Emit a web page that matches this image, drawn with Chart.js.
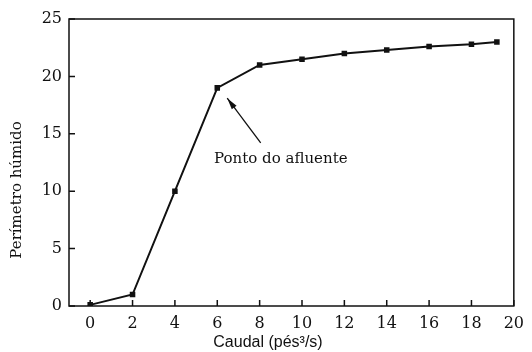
<!DOCTYPE html>
<html>
<head>
<meta charset="utf-8">
<script src="https://cdn.jsdelivr.net/npm/chart.js@4.4.1/dist/chart.umd.min.js"></script>
<style>
  html, body { margin: 0; padding: 0; background: #ffffff; }
  #wrap { width: 532px; height: 352px; }
</style>
</head>
<body>
<div id="wrap"><canvas id="chart" width="532" height="352"></canvas></div>
<script>
// values
const caudal = [0, 2, 4, 6, 8, 10, 12, 14, 16, 18, 19.2];
const perimetro = [0.1, 1.0, 10.0, 19.0, 21.0, 21.5, 22.0, 22.3, 22.6, 22.8, 23.0];
const xTicks = [0, 2, 4, 6, 8, 10, 12, 14, 16, 18, 20];
const yTicks = [0, 5, 10, 15, 20, 25];

const xTitle = "Caudal (pés³/s)";
const yTitle = "Perímetro húmido";
const noteText = "Ponto do afluente";

const serif = "'DejaVu Serif', 'Liberation Serif', serif";
const sans = "'Liberation Sans', Arial, sans-serif";

// inward ticks, frame, axis titles and the arrow note
const decorations = {
  id: "decorations",
  afterDraw(chart) {
    const { ctx, chartArea: a } = chart;
    const xs = chart.scales.x, ys = chart.scales.y;
    ctx.save();
    ctx.strokeStyle = "#111";
    ctx.lineWidth = 1.5;
    ctx.strokeRect(a.left, a.top, a.right - a.left, a.bottom - a.top);

    ctx.beginPath();
    xTicks.forEach(v => {
      const px = xs.getPixelForValue(v);
      ctx.moveTo(px, a.bottom);
      ctx.lineTo(px, a.bottom - 6);
    });
    yTicks.forEach(v => {
      const py = ys.getPixelForValue(v);
      ctx.moveTo(a.left, py);
      ctx.lineTo(a.left + 6, py);
    });
    ctx.stroke();

    // x title
    ctx.fillStyle = "#111";
    ctx.font = "16px " + sans;
    ctx.textAlign = "center";
    ctx.textBaseline = "middle";
    ctx.fillText(xTitle, 268, 343);

    // y title
    ctx.save();
    ctx.translate(17, 190);
    ctx.rotate(-Math.PI / 2);
    ctx.font = "15px " + serif;
    ctx.fillText(yTitle, 0, 0);
    ctx.restore();

    // arrow pointing to the 6 cfs point
    const tx = xs.getPixelForValue(8.05), ty = ys.getPixelForValue(14.2);
    const hx = xs.getPixelForValue(6.47), hy = ys.getPixelForValue(18.1);
    ctx.lineWidth = 1.3;
    ctx.beginPath();
    ctx.moveTo(tx, ty);
    ctx.lineTo(hx, hy);
    ctx.stroke();
    const ang = Math.atan2(hy - ty, hx - tx);
    const len = 12, wid = 0.25;
    ctx.beginPath();
    ctx.moveTo(hx, hy);
    ctx.lineTo(hx - len * Math.cos(ang - wid), hy - len * Math.sin(ang - wid));
    ctx.lineTo(hx - len * Math.cos(ang + wid), hy - len * Math.sin(ang + wid));
    ctx.closePath();
    ctx.fill();

    ctx.font = "15px " + serif;
    ctx.textAlign = "center";
    ctx.fillText(noteText, xs.getPixelForValue(9.0), ys.getPixelForValue(12.8));
    ctx.restore();
  }
};

new Chart(document.getElementById("chart"), {
  type: "line",
  data: {
    datasets: [{
      data: caudal.map((x, i) => ({ x: x, y: perimetro[i] })),
      borderColor: "#111",
      backgroundColor: "#111",
      borderWidth: 2,
      pointStyle: "rect",
      pointRadius: 2.5,
      tension: 0,
      fill: false
    }]
  },
  options: {
    responsive: false,
    animation: false,
    layout: { padding: { left: 0, top: 19, right: 12, bottom: 0 } },
    plugins: { legend: { display: false }, tooltip: { enabled: false } },
    scales: {
      x: {
        type: "linear",
        min: -1,
        max: 20,
        afterBuildTicks: s => { s.ticks = xTicks.map(v => ({ value: v })); },
        afterFit: s => { s.height = 46; },
        grid: { display: false, drawTicks: false },
        border: { display: false },
        ticks: { color: "#111", font: { family: serif, size: 16 }, padding: 8, maxRotation: 0 }
      },
      y: {
        min: 0,
        max: 25,
        afterBuildTicks: s => { s.ticks = yTicks.map(v => ({ value: v })); },
        afterFit: s => { s.width = 69; },
        grid: { display: false, drawTicks: false },
        border: { display: false },
        ticks: { color: "#111", font: { family: serif, size: 16 }, padding: 7 }
      }
    }
  },
  plugins: [decorations]
});
</script>
</body>
</html>
